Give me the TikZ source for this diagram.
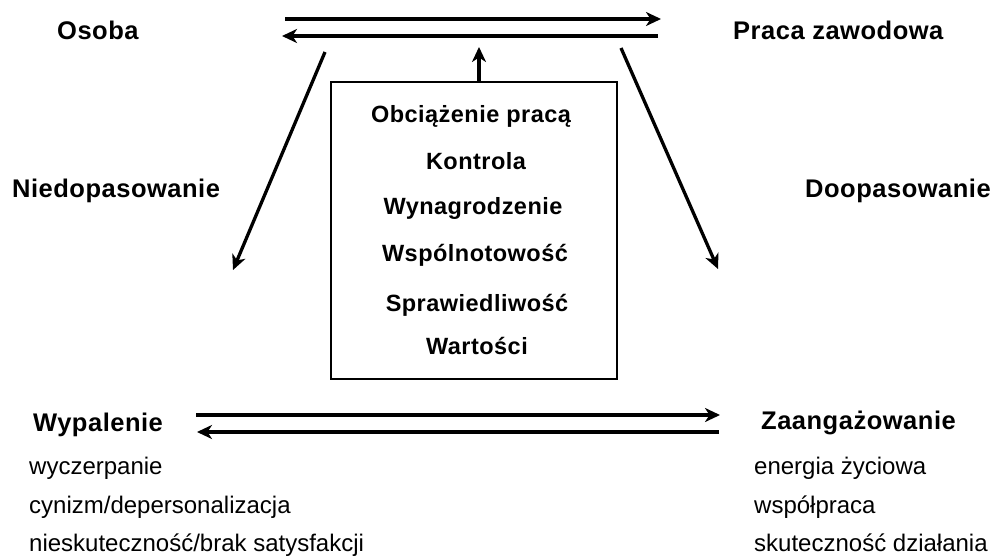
\documentclass[tikz,border=0pt]{standalone}
\usepackage{fontspec}
\setmainfont{Liberation Sans}
\newfontfamily\spacedfont[LetterSpace=2.0]{Liberation Sans}
\usetikzlibrary{arrows.meta}
\begin{document}
\begin{tikzpicture}[x=1pt,y=-1pt,
  arr/.style={line width=3.3pt,-{Stealth[length=15pt,width=14pt,inset=4.5pt]}},
  headlbl/.style={anchor=base west,inner sep=0pt,font=\spacedfont\bfseries\fontsize{25.5}{30}\selectfont},
  boxlbl/.style={anchor=base,inner sep=0pt,font=\spacedfont\bfseries\fontsize{23.5}{28}\selectfont},
  itemlbl/.style={anchor=base west,inner sep=0pt,font=\fontsize{24}{28}\selectfont},
  framebox/.style={draw,line width=1.8pt,minimum width=286pt,minimum height=297pt,inner sep=0pt}]
\useasboundingbox (0,0) rectangle (995,559);

% corner labels
\node[headlbl] (osoba) at (57,40) {Osoba};
\node[headlbl] (praca) at (733,40) {Praca zawodowa};
\node[headlbl] (niedo) at (12,197) {Niedopasowanie};
\node[headlbl] (doop) at (805,197) {Doopasowanie};
\node[headlbl] (wyp) at (33,431) {Wypalenie};
\node[headlbl] (zaang) at (761,429) {Zaangażowanie};

% the six areas of work life
\node[framebox] (box) at (474,230.5) {};
\node[boxlbl] (l1) at (471,123) {Obciążenie pracą};
\node[boxlbl] (l2) at (476,169) {Kontrola};
\node[boxlbl] (l3) at (473,214) {Wynagrodzenie};
\node[boxlbl] (l4) at (475,261) {Wspólnotowość};
\node[boxlbl] (l5) at (477,311) {Sprawiedliwość};
\node[boxlbl] (l6) at (477,354) {Wartości};

% descriptions
\node[itemlbl] (b1) at (29,474) {wyczerpanie};
\node[itemlbl] (b2) at (29,513) {cynizm/depersonalizacja};
\node[itemlbl] (b3) at (29,551) {nieskuteczność/brak satysfakcji};
\node[itemlbl] (e1) at (754,474) {energia życiowa};
\node[itemlbl] (e2) at (754,513) {współpraca};
\node[itemlbl] (e3) at (754,551) {skuteczność działania};

% arrow end points
\coordinate (t1a) at (285,19);
\coordinate (t1b) at (661,19);
\coordinate (t2a) at (658,36);
\coordinate (t2b) at (282,36);
\coordinate (up) at (479,47);
\coordinate (dla) at (325,52);
\coordinate (dlb) at (233,270);
\coordinate (dra) at (621,48);
\coordinate (drb) at (718,269);
\coordinate (b1a) at (196,415);
\coordinate (b1b) at (720,415);
\coordinate (b2a) at (719,432);
\coordinate (b2b) at (197,432);

% connectors
\draw[arr] (t1a) -- (t1b);
\draw[arr] (t2a) -- (t2b);
\draw[arr] (box.north -| up) -- (up);
\draw[arr] (dla) -- (dlb);
\draw[arr] (dra) -- (drb);
\draw[arr] (b1a) -- (b1b);
\draw[arr] (b2a) -- (b2b);
\end{tikzpicture}
\end{document}
